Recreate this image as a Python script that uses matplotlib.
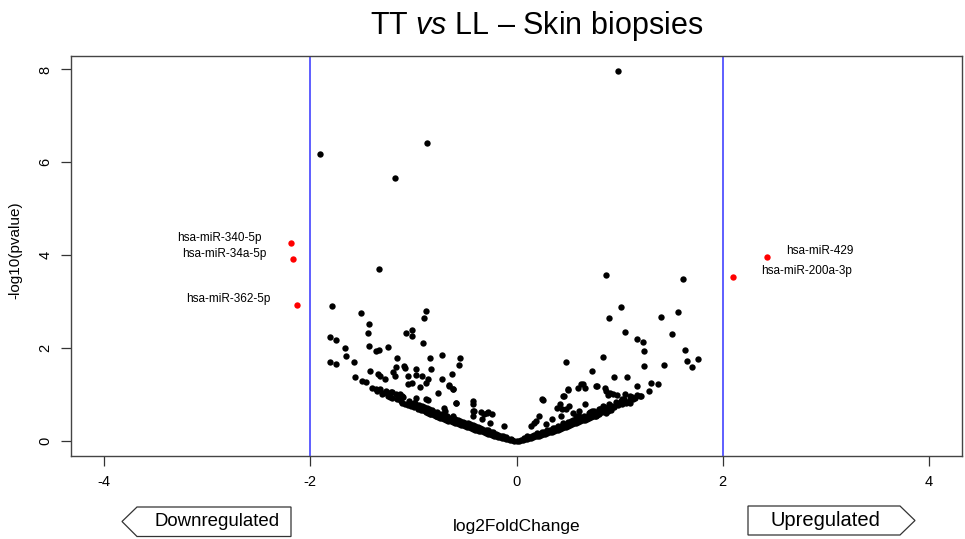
import matplotlib
matplotlib.use("Agg")
import matplotlib.pyplot as plt
from matplotlib.patches import Polygon
import numpy as np

plt.rcParams['font.family'] = ['Liberation Sans', 'DejaVu Sans']
plt.rcParams['mathtext.fontset'] = 'custom'
plt.rcParams['mathtext.rm'] = 'Liberation Sans'
plt.rcParams['mathtext.it'] = 'Liberation Sans:italic'
plt.rcParams['axes.unicode_minus'] = False

# non significant miRNAs (log2FoldChange, -log10 pvalue)
black_x = [
    0.98, -1.91, -0.87, -1.18, -1.33, 0.87, 1.61,
    -1.79, -1.51, -1.43, -1.44, -1.81, -1.75, -1.66, -1.43, -1.65, -1.81, -1.75, -1.58,
    -1.36, -1.33, -1.25, -1.16, -1.07, -1.01, -1.01, -0.88, -0.90, -0.91, -0.72, -0.84,
    -0.55, -0.56, -1.17, -1.09, -1.08, -1.42, -1.57, -1.50, -1.46, -1.34, -1.32, -1.20,
    -1.18, -1.28, -0.97, -0.83, -1.05, -0.97, -0.92, -0.86, -0.63, -0.72, -1.05, -1.01,
    -0.88, -0.94, -0.65, -0.62, -0.76, -1.36, -1.29, -1.26, -1.21, -1.17, -1.13, -1.11,
    -1.23, -1.14, -1.11, -0.97, -0.99, -0.86, -0.59, -0.95, -0.91, -0.88, -0.84, -0.81,
    -0.70, -0.69, -0.78, -0.72, -0.65, -0.62, -0.42, -0.42, -0.42, -0.42, -0.34, -0.32,
    -0.28, -0.24, -0.33, -0.26, -0.12, -0.65, -0.62, -0.99, -0.88, -0.59, -0.41, -0.29,
    1.01, 0.90, 1.40, 1.57, 1.05, 1.17, 1.23, 1.24, 1.51, 1.63, 1.65, 1.70, 1.76, 1.43,
    1.24, 0.84, 0.48, 0.73, 0.95, 1.07, 0.64, 0.60, 0.50, 0.46, 0.78, 0.86, 0.91, 0.89,
    0.97, 1.05, 1.10, 1.13, 1.17, 1.21, 1.28, 1.30, 1.37, 1.17, 1.01, 1.06, 1.10, 0.25,
    0.42, 0.39, 0.44, 0.51, 0.61, 0.66, 0.71, 0.79, 0.84, 0.89, 0.92, 0.77, 0.22, 0.34,
    0.43, 0.53, 0.58, 0.17, 0.14, 0.29, 0.37, 0.45, 0.26, 0.45, 0.50, 0.63, 0.66, 0.77,
    0.87, 0.94, 1.02, 1.00, 0.48, 0.55, 0.73, 0.81, 0.87, 0.61, 0.19,
    -1.40, -1.35, -1.30, -1.25, -1.21, -1.16, -1.12, -1.08, -1.05, -1.02, -0.99, -0.96,
    -0.93, -0.90, -0.88, -0.86, -0.83, -0.80, -0.78, -0.76, -0.74, -0.72, -0.70, -0.68,
    -0.66, -0.64, -0.62, -0.60, -0.58, -0.56, -0.54, -0.52, -0.50, -0.48, -0.46, -0.44,
    -0.42, -0.40, -0.38, -0.36, -0.34, -0.32, -0.30, -0.28, -0.26, -0.24, -0.22, -0.20,
    -0.18, -0.16, -0.14, -0.12, -0.10, -0.08, -0.06, -0.04, -0.02, 0.00,
    -0.95, -0.90, -0.85, -0.80, -0.75, -0.70, -0.65, -0.60, -0.55, -0.50, -0.45, -0.40,
    -0.35, -0.30, -0.25, -0.20, -0.15, -0.10, -0.05,
    -1.32, -1.27, -1.22, -1.15, -1.10, -1.04, -0.98, -0.92, -0.87, -0.82, -0.77, -0.72,
    -0.67, -0.62, -0.57, -0.52, -0.47, -0.42, -0.37, -0.33, -0.28, -0.23, -0.18, -0.13,
    0.02, 0.04, 0.06, 0.08, 0.10, 0.12, 0.14, 0.16, 0.18, 0.20, 0.22, 0.24, 0.26, 0.28,
    0.30, 0.32, 0.34, 0.36, 0.38, 0.40, 0.42, 0.44, 0.46, 0.48, 0.50, 0.52, 0.54, 0.56,
    0.58, 0.60, 0.62, 0.64, 0.66, 0.68, 0.70, 0.72, 0.74, 0.76, 0.78, 0.80, 0.83, 0.86,
    0.89, 0.92, 0.95, 0.98, 1.02, 1.06, 1.10, 1.15, 1.20,
    0.07, 0.12, 0.17, 0.22, 0.27, 0.32, 0.37, 0.42, 0.47, 0.52, 0.57, 0.62, 0.67, 0.72,
    0.77, 0.82, 0.88, 0.93,
    0.10, 0.15, 0.20, 0.25, 0.30, 0.35, 0.40, 0.45, 0.50, 0.55, 0.60, 0.65, 0.70, 0.75,
    0.80, 0.85, 0.90, 0.96, 1.04, 1.12,
]
black_y = [
    7.96, 6.18, 6.42, 5.66, 3.71, 3.58, 3.50,
    2.90, 2.75, 2.52, 2.32, 2.24, 2.17, 2.00, 2.05, 1.84, 1.71, 1.66, 1.71,
    1.94, 1.97, 2.02, 1.78, 2.32, 2.39, 2.26, 2.80, 2.65, 2.12, 1.86, 1.80,
    1.80, 1.63, 1.59, 1.61, 1.57, 1.50, 1.38, 1.29, 1.27, 1.45, 1.40, 1.49,
    1.40, 1.33, 1.55, 1.56, 1.40, 1.42, 1.41, 1.33, 1.45, 1.33, 1.24, 1.26,
    1.26, 1.17, 1.20, 1.13, 1.03, 1.12, 1.04, 1.03, 1.06, 1.01, 1.02, 0.97,
    0.96, 0.90, 0.82, 0.93, 0.83, 0.89, 0.82, 0.72, 0.67, 0.62, 0.58, 0.62,
    0.72, 0.65, 0.54, 0.51, 0.47, 0.54, 0.86, 0.79, 0.65, 0.54, 0.62, 0.58,
    0.62, 0.59, 0.47, 0.40, 0.33, 1.19, 1.12, 0.83, 0.90, 0.82, 0.65, 0.61,
    2.88, 2.66, 2.67, 2.77, 2.35, 2.20, 2.14, 1.93, 2.30, 1.96, 1.72, 1.60, 1.77, 1.63,
    1.61, 1.81, 1.71, 1.52, 1.38, 1.39, 1.24, 1.14, 1.10, 0.97, 1.19, 1.15, 1.03, 0.99,
    1.00, 1.01, 0.97, 0.90, 1.00, 0.97, 1.08, 1.26, 1.22, 1.19, 0.86, 0.83, 0.83, 0.90,
    0.79, 0.72, 0.69, 0.76, 0.65, 0.79, 0.62, 0.62, 0.76, 0.65, 0.67, 0.54, 0.54, 0.47,
    0.54, 0.44, 0.54, 0.40, 0.33, 0.36, 0.29, 0.36, 0.89, 0.97, 1.12, 1.22, 1.15, 1.19,
    1.08, 1.01, 0.90, 0.83, 0.69, 0.61, 0.65, 0.69, 0.61, 0.54, 0.44,
    1.15, 1.08, 1.02, 0.98, 0.93, 0.90, 0.86, 0.81, 0.78, 0.75, 0.74, 0.70,
    0.68, 0.66, 0.64, 0.60, 0.58, 0.56, 0.55, 0.52, 0.50, 0.49, 0.47, 0.46,
    0.44, 0.43, 0.41, 0.40, 0.38, 0.37, 0.35, 0.34, 0.33, 0.31, 0.30, 0.28,
    0.27, 0.25, 0.24, 0.22, 0.21, 0.19, 0.18, 0.16, 0.15, 0.13, 0.12, 0.10,
    0.09, 0.08, 0.07, 0.06, 0.05, 0.04, 0.03, 0.02, 0.01, 0.00,
    0.78, 0.73, 0.69, 0.62, 0.58, 0.55, 0.50, 0.47, 0.43, 0.40, 0.36, 0.32,
    0.28, 0.24, 0.20, 0.16, 0.12, 0.08, 0.05,
    1.12, 1.08, 1.05, 0.98, 0.94, 0.86, 0.82, 0.76, 0.72, 0.66, 0.62, 0.58,
    0.54, 0.50, 0.46, 0.42, 0.39, 0.35, 0.31, 0.27, 0.23, 0.19, 0.14, 0.10,
    0.01, 0.02, 0.03, 0.04, 0.05, 0.06, 0.07, 0.08, 0.10, 0.11, 0.12, 0.13, 0.15, 0.16,
    0.17, 0.19, 0.20, 0.22, 0.23, 0.25, 0.26, 0.28, 0.30, 0.31, 0.33, 0.35, 0.36, 0.38,
    0.40, 0.41, 0.43, 0.45, 0.46, 0.48, 0.50, 0.52, 0.54, 0.55, 0.57, 0.59, 0.62, 0.65,
    0.68, 0.71, 0.74, 0.77, 0.80, 0.84, 0.88, 0.93, 0.97,
    0.06, 0.09, 0.13, 0.16, 0.19, 0.23, 0.27, 0.30, 0.35, 0.39, 0.43, 0.47, 0.51, 0.56,
    0.60, 0.65, 0.71, 0.76,
    0.10, 0.12, 0.17, 0.20, 0.25, 0.28, 0.33, 0.38, 0.42, 0.46, 0.51, 0.55, 0.60, 0.64,
    0.69, 0.74, 0.79, 0.84, 0.90, 0.96,
]

# significant miRNAs
sig_names = ["hsa-miR-340-5p", "hsa-miR-34a-5p", "hsa-miR-362-5p",
             "hsa-miR-429", "hsa-miR-200a-3p"]
sig_x = [-2.19, -2.17, -2.13, 2.43, 2.10]
sig_y = [4.27, 3.91, 2.94, 3.97, 3.54]

fig = plt.figure(figsize=(9.65, 5.39), dpi=100)
ax = fig.add_axes([71/965, 83/539, 891/965, 400/539])

ax.scatter(black_x, black_y, s=21, c="black", linewidths=0, zorder=3)
ax.scatter(sig_x, sig_y, s=21, c="red", linewidths=0, zorder=3)

ax.axvline(-2, color="#3333ff", lw=1.1, zorder=2)
ax.axvline(2, color="#3333ff", lw=1.1, zorder=2)

label_offsets = [(-21, 3.5), (-19, 4), (-19, 4.3), (14, 4), (20, 4)]
for name, x, y, off in zip(sig_names, sig_x, sig_y, label_offsets):
    ax.annotate(name, (x, y), xytext=off, textcoords="offset points",
                ha="right" if x < 0 else "left", va="center", fontsize=8.5)

ax.set_xlim(-4.32, 4.32)
ax.set_ylim(-0.32, 8.29)
ax.set_xticks([-4, -2, 0, 2, 4])
ax.set_yticks([0, 2, 4, 6, 8])
ax.tick_params(direction="out", length=7.5, width=0.9, labelsize=10.5, pad=6,
               colors="#333333", labelcolor="black")
for lab in ax.get_yticklabels():
    lab.set_rotation(90)
    lab.set_va("center")
for sp in ax.spines.values():
    sp.set_color("#444444")
    sp.set_linewidth(1.0)

fig.text(15/965, 1 - 250/539, "-log10(pvalue)", rotation=90, ha="center", va="center", fontsize=11)
fig.text(517/965, 1 - 526/539, "log2FoldChange", ha="center", va="center", fontsize=12.5)
fig.text(537/965, 1 - 26/539, r"TT $\mathit{vs}$ LL – Skin biopsies", ha="center", va="center",
         fontsize=22)

# arrow boxes below the axis
down_box = [(122, 521.5), (137, 507), (291, 507), (291, 536.5), (137, 536.5)]
up_box = [(748, 506), (900, 506), (915, 520.5), (900, 535), (748, 535)]
for pts in (down_box, up_box):
    poly = Polygon([(px / 965, 1 - py / 539) for px, py in pts], closed=True,
                   transform=fig.transFigure, facecolor="white", edgecolor="#333333", lw=0.9)
    fig.patches.append(poly)
fig.text(217/965, 1 - 522/539, "Downregulated", ha="center", va="center", fontsize=13.4)
fig.text(825/965, 1 - 520/539, "Upregulated", ha="center", va="center", fontsize=14.5)

fig.savefig("out.png", dpi=100)
